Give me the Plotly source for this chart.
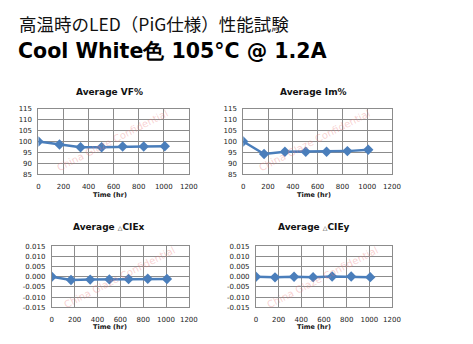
import plotly.graph_objects as go

# ---- data ----
hours = [0, 168, 336, 504, 672, 840, 1008]
vf_pct = [100.0, 98.6, 97.4, 97.4, 97.7, 97.7, 97.8]
im_pct = [100.0, 94.3, 95.3, 95.3, 95.3, 95.6, 96.2]
d_ciex = [0.0, -0.0016, -0.0014, -0.0013, -0.0011, -0.0010, -0.0011]
d_ciey = [0.0, -0.0003, 0.0, -0.0002, 0.0001, 0.0001, -0.0002]

x_ticks = [0, 200, 400, 600, 800, 1000, 1200]
pct_ticks = [85, 90, 95, 100, 105, 110, 115]
cie_ticks = [-0.015, -0.010, -0.005, 0.0, 0.005, 0.010, 0.015]
cie_ticktext = ["-0.015", "-0.010", "-0.005", "0.000", "0.005", "0.010", "0.015"]

titles = ["Average VF%", "Average Im%",
          "Average <span style='font-size:6px'>△</span>CIEx",
          "Average <span style='font-size:6px'>△</span>CIEy"]
heading1 = "高温時のLED（PiG仕様）性能試験"
heading2 = "Cool White色 105°C @ 1.2A"
watermark = "China Glaze Confidential"
x_title = "Time (hr)"

W, H = 473, 344
def px(x):
    return x / W
def py(y):
    return 1 - y / H

FONT = "DejaVu Sans"
LINE = "#4A7EBB"
GRID = "#8C8C8C"

fig = go.Figure()

panels = [
    (hours, vf_pct, (37.3, 191.3), (107.3, 174.3), pct_ticks, [str(v) for v in pct_ticks], [85, 115]),
    (hours, im_pct, (247.0, 399.3), (107.3, 174.3), pct_ticks, [str(v) for v in pct_ticks], [85, 115]),
    (hours, d_ciex, (51.0, 191.3), (248.0, 310.5), cie_ticks, cie_ticktext, [-0.015, 0.015]),
    (hours, d_ciey, (260.0, 399.3), (248.0, 310.5), cie_ticks, cie_ticktext, [-0.015, 0.015]),
]

for i, (xd, yd, xdom, ydom, yt, ytt, yr) in enumerate(panels, start=1):
    xa = "x" if i == 1 else f"x{i}"
    ya = "y" if i == 1 else f"y{i}"
    fig.add_trace(go.Scatter(
        x=xd, y=yd, xaxis=xa, yaxis=ya, mode="lines+markers",
        line=dict(color=LINE, width=2.5),
        marker=dict(symbol="diamond", size=8, color=LINE),
        showlegend=False, hoverinfo="skip"))
    xk = "xaxis" if i == 1 else f"xaxis{i}"
    yk = "yaxis" if i == 1 else f"yaxis{i}"
    fig.layout[xk] = dict(
        domain=[px(xdom[0]), px(xdom[1])], anchor=ya, range=[0, 1200],
        tickvals=x_ticks, ticktext=[str(v) for v in x_ticks],
        showgrid=True, gridcolor=GRID, gridwidth=1,
        showline=True, linecolor=GRID, linewidth=1, mirror=True,
        zeroline=False, ticks="", ticklabelstandoff=5,
        tickfont=dict(family=FONT, size=7, color="#222"), fixedrange=True)
    fig.layout[yk] = dict(
        domain=[py(ydom[1]), py(ydom[0])], anchor=xa, range=yr,
        tickvals=yt, ticktext=ytt,
        showgrid=True, gridcolor=GRID, gridwidth=1,
        showline=True, linecolor=GRID, linewidth=1, mirror=True,
        zeroline=False, ticks="", ticklabelstandoff=4,
        tickfont=dict(family=FONT, size=7, color="#222"), fixedrange=True)

ann = []
ann.append(dict(text=heading1, x=px(15), y=py(20), xanchor="left", yanchor="middle",
                font=dict(family="Noto Sans CJK JP", size=17.5, color="#111")))
ann.append(dict(text="<b>" + heading2 + "</b>", x=px(14), y=py(48), xanchor="left", yanchor="middle",
                font=dict(family=FONT, size=20.5, color="#000")))
for t, (cx, cy) in zip(titles, [(110, 90), (319, 90), (110, 228), (319, 228)]):
    ann.append(dict(text="<b>" + t + "</b>", x=px(cx), y=py(cy), xanchor="center", yanchor="middle",
                    font=dict(family=FONT, size=9, color="#111")))
for cx, cy in [(110.5, 196), (319, 196), (110.5, 331), (319, 331)]:
    ann.append(dict(text="<b>" + x_title + "</b>", x=px(cx), y=py(cy), xanchor="center", yanchor="middle",
                    font=dict(family=FONT, size=6.5, color="#111")))
for cx, cy in [(113, 140), (320, 140), (120, 280), (328, 280)]:
    ann.append(dict(text=watermark, x=px(cx), y=py(cy), xanchor="center", yanchor="middle",
                    textangle=-27,
                    font=dict(family=FONT, size=10, color="rgba(235,120,120,0.35)")))

for a in ann:
    a.update(xref="paper", yref="paper", showarrow=False)
fig.update_layout(annotations=ann)

fig.update_layout(
    width=W, height=H, margin=dict(l=0, r=0, t=0, b=0),
    paper_bgcolor="white", plot_bgcolor="white",
)

fig.write_html("out.html", config={"displayModeBar": False})
